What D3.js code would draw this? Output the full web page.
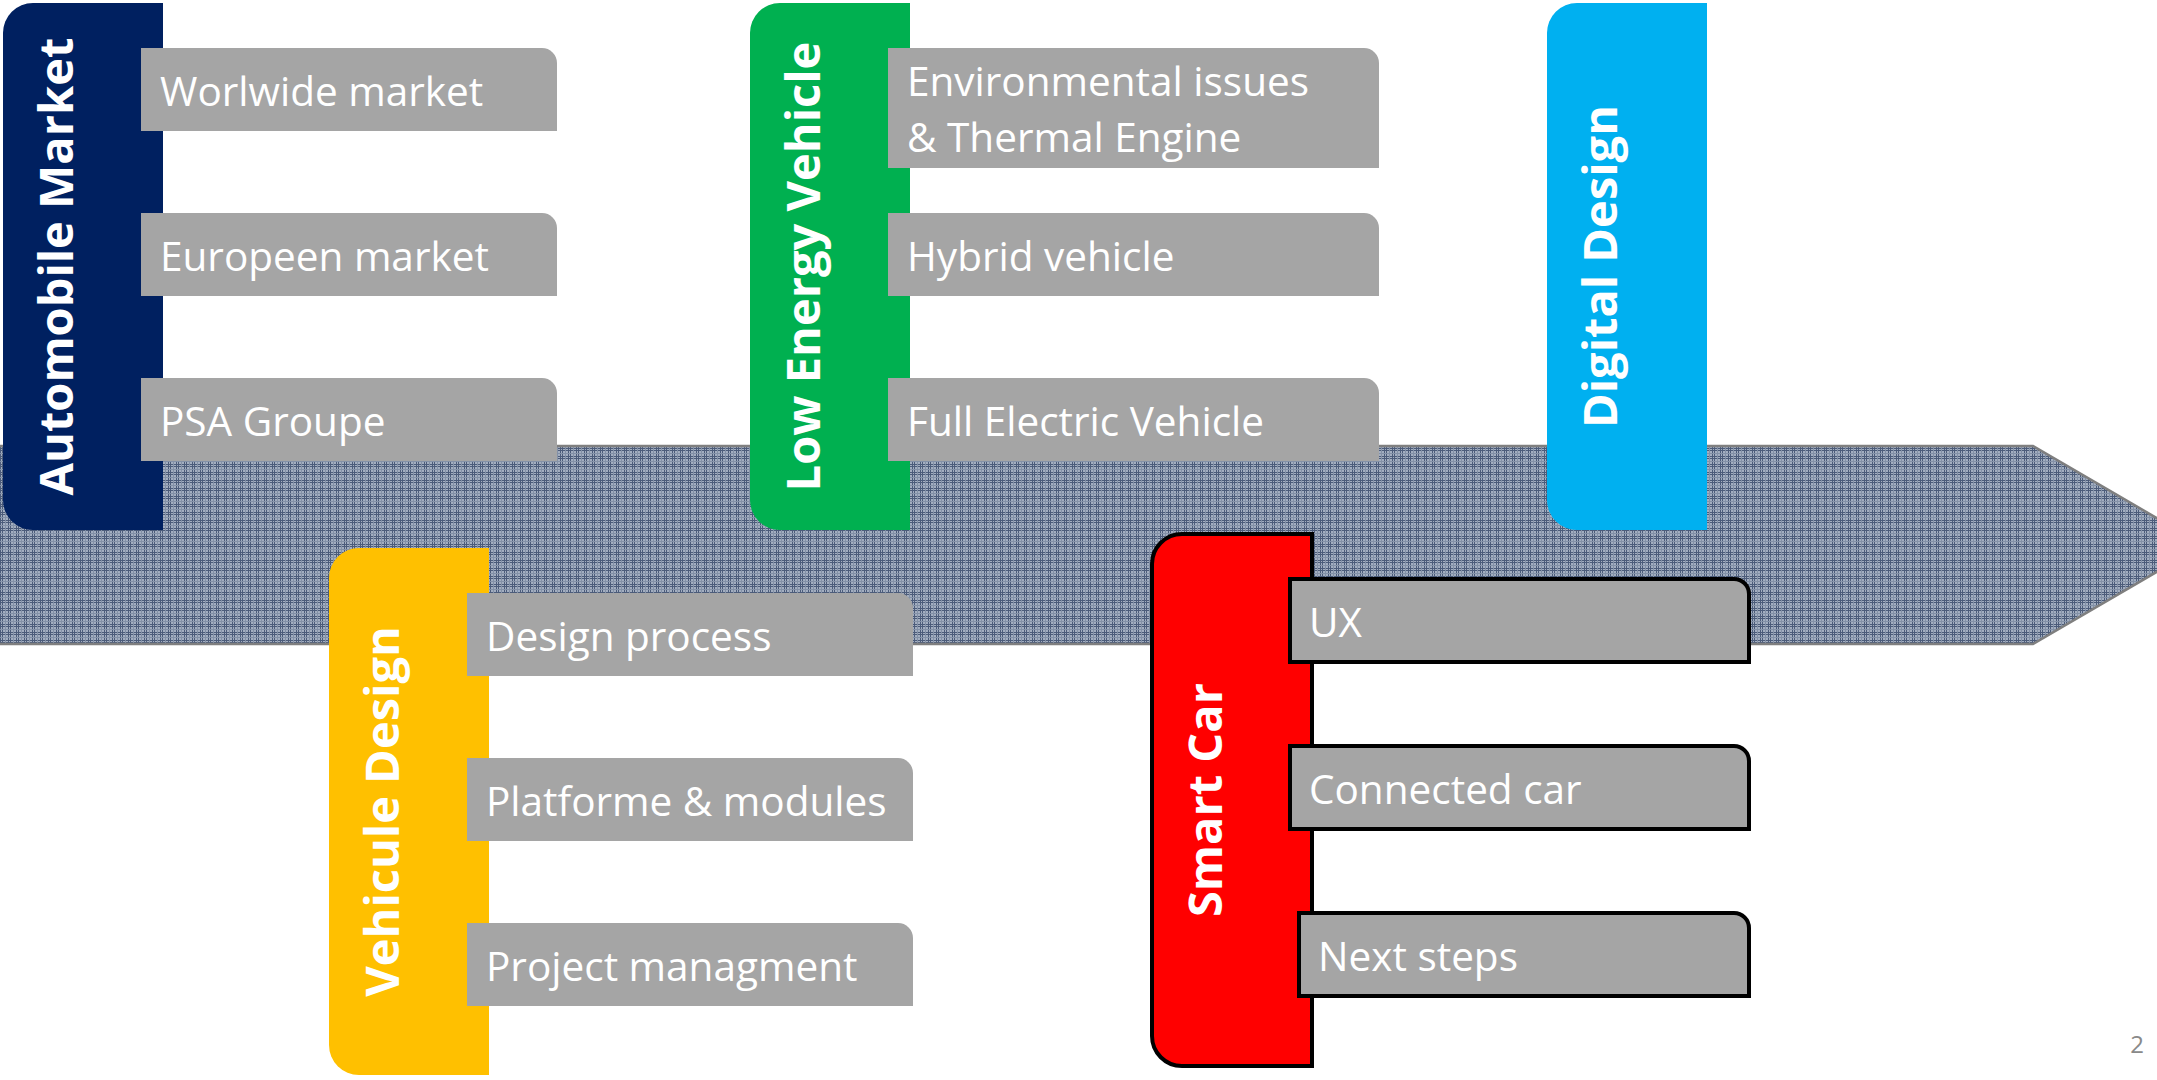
<!DOCTYPE html>
<html lang="en">
<head>
	<meta charset="utf-8">
	<title>Course Roadmap</title>
	<script type="text/javascript" src="https://d3js.org/d3.v7.min.js"></script>
	<style type="text/css">
		html, body { margin: 0; padding: 0; background: white; overflow: hidden; }
		svg { display: block; }
	</style>
</head>
<body>
	<script type="text/javascript">
        // ---- data ----
        var groups = ["Automobile Market", "Low Energy Vehicle", "Digital Design", "Vehicule Design", "Smart Car"];
        var automobileItems = ["Worlwide market", "Europeen market", "PSA Groupe"];
        var lowEnergyItems = ["Environmental issues\n& Thermal Engine", "Hybrid vehicle", "Full Electric Vehicle"];
        var digitalItems = [];
        var vehiculeItems = ["Design process", "Platforme & modules", "Project managment"];
        var smartCarItems = ["UX", "Connected car", "Next steps"];
        var pageNumber = "2";

        var itemsByGroup = d3.scaleOrdinal(groups, [automobileItems, lowEnergyItems, digitalItems, vehiculeItems, smartCarItems]);

        // ---- layout / style ----
        var width = 2157, height = 1080;
        var font = "'Open Sans', sans-serif";

        var color = d3.scaleOrdinal(groups, ["#002060", "#00b050", "#00b0f0", "#ffc000", "#ff0000"]);
        var blockX = d3.scaleOrdinal(groups, [3, 750, 1547, 329, 1152]);
        var blockY = d3.scaleOrdinal(groups, [3, 3, 3, 548, 534]);
        var blockH = d3.scaleOrdinal(groups, [527, 527, 527, 527, 532]);
        var boxW = d3.scaleOrdinal(groups, [416, 491, 0, 446, 459]);
        var outlined = d3.scaleOrdinal(groups, [false, false, false, false, true]);
        var blockW = 160, boxOffset = 138, lineH = 56;
        var itemY = d3.scaleLinear().domain([0, 2]).range([45, 375]);

        var arrow = {top: 446, bottom: 644, neck: 2033, tip: 2203};

        var svg = d3.select("body")
            .append("svg")
            .attr("width", width)
            .attr("height", height);

        // plaid fill for the timeline arrow
        var defs = svg.append("defs");
        var pat = defs.append("pattern")
            .attr("id", "hatch")
            .attr("patternUnits", "userSpaceOnUse")
            .attr("width", 8)
            .attr("height", 8);
        pat.append("rect").attr("width", 8).attr("height", 8).attr("fill", "#a3aec0");
        [[0, "#4c5c7a"], [2, "#4c5c7a"], [5, "#8391a7"]].forEach(function(l) {
            pat.append("rect").attr("x", l[0]).attr("y", 0).attr("width", 1).attr("height", 8).attr("fill", l[1]);
            pat.append("rect").attr("x", 0).attr("y", l[0]).attr("width", 8).attr("height", 1).attr("fill", l[1]);
        });

        var mid = (arrow.top + arrow.bottom) / 2;
        svg.append("path")
            .attr("d", d3.line()([[-5, arrow.top], [arrow.neck, arrow.top], [arrow.tip, mid],
                                  [arrow.neck, arrow.bottom], [-5, arrow.bottom]]) + "Z")
            .attr("fill", "url(#hatch)")
            .attr("stroke", "#7f7f7f")
            .attr("stroke-width", 2.5);

        function leftRounded(x, y, w, h, r) {
            var p = d3.path();
            p.moveTo(x + r, y);
            p.lineTo(x + w, y);
            p.lineTo(x + w, y + h);
            p.lineTo(x + r, y + h);
            p.arcTo(x, y + h, x, y + h - r, r);
            p.lineTo(x, y + r);
            p.arcTo(x, y, x + r, y, r);
            p.closePath();
            return p.toString();
        }
        function topRightRounded(x, y, w, h, r) {
            var p = d3.path();
            p.moveTo(x, y);
            p.lineTo(x + w - r, y);
            p.arcTo(x + w, y, x + w, y + r, r);
            p.lineTo(x + w, y + h);
            p.lineTo(x, y + h);
            p.closePath();
            return p.toString();
        }

        var node = svg.selectAll(".group")
            .data(groups)
            .enter()
            .append("g")
            .attr("class", "group");

        node.append("path")
            .attr("d", function(d) { return leftRounded(blockX(d), blockY(d), blockW, blockH(d), 30); })
            .attr("fill", function(d) { return color(d); })
            .attr("stroke", function(d) { return outlined(d) ? "#000" : "none"; })
            .attr("stroke-width", 4);

        node.append("text")
            .attr("transform", function(d) {
                return "translate(" + (blockX(d) + 70) + "," + (blockY(d) + blockH(d) / 2) + ") rotate(-90)";
            })
            .attr("text-anchor", "middle")
            .attr("font-family", font)
            .attr("font-weight", "bold")
            .attr("font-size", 47)
            .attr("fill", "white")
            .text(function(d) { return d; });

        // item boxes
        node.each(function(g) {
            var items = itemsByGroup(g);
            var sel = d3.select(this).selectAll(".item")
                .data(items)
                .enter()
                .append("g")
                .attr("class", "item");

            var shift = function(i) { return outlined(g) && i == 2 ? 9 : 0; };
            var bx = function(d, i) { return blockX(g) + boxOffset + shift(i); };
            var by = function(d, i) { return blockY(g) + itemY(i) + (outlined(g) ? i * 2 : 0); };
            var bh = function(d) { return 83 + (d.split("\n").length - 1) * 37; };

            sel.append("path")
                .attr("d", function(d, i) { return topRightRounded(bx(d, i), by(d, i), boxW(g) - shift(i), bh(d), 15); })
                .attr("fill", "#a5a5a5")
                .attr("stroke", outlined(g) ? "#000" : "none")
                .attr("stroke-width", 4);

            sel.append("text")
                .attr("font-family", font)
                .attr("font-size", 40.5)
                .attr("fill", "white")
                .each(function(d, i) {
                    var t = d3.select(this);
                    var lines = d.split("\n");
                    var base = lines.length > 1 ? 48 : 58;
                    lines.forEach(function(line, k) {
                        t.append("tspan")
                            .attr("x", bx(d, i) + 19)
                            .attr("y", by(d, i) + base + k * lineH)
                            .text(line);
                    });
                });
        });

        svg.append("text")
            .attr("x", 2144)
            .attr("y", 1053)
            .attr("text-anchor", "end")
            .attr("font-family", font)
            .attr("font-size", 24)
            .attr("fill", "#898989")
            .text(pageNumber);
	</script>
</body>
</html>
